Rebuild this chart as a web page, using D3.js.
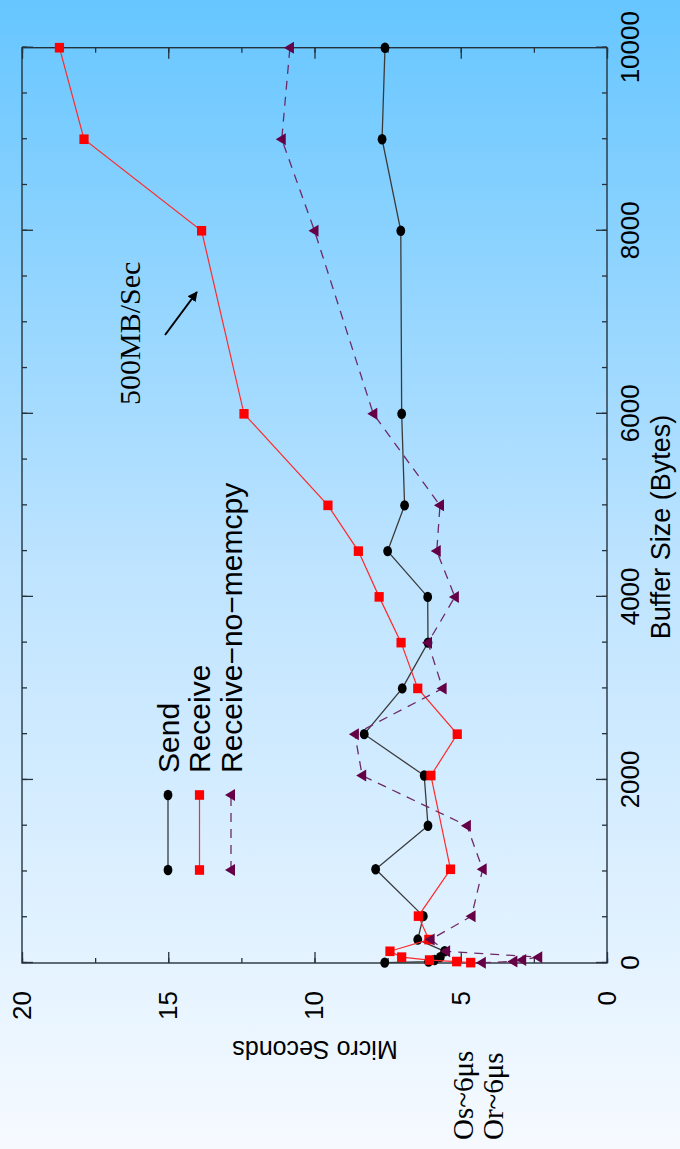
<!DOCTYPE html>
<html><head><meta charset="utf-8">
<script src="https://cdn.jsdelivr.net/npm/d3@7"></script>
<style>html,body{margin:0;padding:0;background:#fff}svg{display:block}</style>
</head><body>
<svg id="chart" width="680" height="1149"></svg>
<script>
// Latency vs. buffer size (bytes -> microseconds)
const sendSizes   = [4, 16, 32, 64, 128, 256, 512, 1024, 1500, 2048, 2500, 3000, 3500, 4000, 4500, 5000, 6000, 8000, 9000, 10000];
const sendMicros  = [7.6, 6.1, 5.9, 5.7, 5.55, 6.47, 6.28, 7.91, 6.12, 6.25, 8.30, 7.0, 6.12, 6.13, 7.50, 6.92, 7.02, 7.05, 7.69, 7.59];

const recvSizes   = [4, 16, 32, 64, 128, 256, 512, 1024, 2048, 2500, 3000, 3500, 4000, 4500, 5000, 6000, 8000, 9000, 10000];
const recvMicros  = [4.66, 5.14, 6.07, 7.02, 7.42, 6.09, 6.45, 5.35, 6.02, 5.12, 6.47, 7.04, 7.79, 8.50, 9.54, 12.41, 13.86, 17.88, 18.72];

const nomemSizes  = [4, 16, 32, 64, 128, 256, 512, 1024, 1500, 2048, 2500, 3000, 3500, 4000, 4500, 5000, 6000, 8000, 9000, 10000];
const nomemMicros = [4.28, 3.2, 2.9, 2.35, 5.5, 6.03, 4.63, 4.25, 4.79, 8.37, 8.62, 5.62, 6.12, 5.20, 5.82, 5.71, 7.99, 10.0, 11.12, 10.84];

const seriesNames = ["Send", "Receive", "Receive\u2212no\u2212memcpy"];
const sizeTicks   = [0, 2000, 4000, 6000, 8000, 10000];
const microTicks  = [0, 5, 10, 15, 20];

// annotation: bandwidth slope marker (data units)
const slopeArrow = {from: [6861, 15.11], to: [7331, 14.02]};
const slopeLabel = {text: "500MB/Sec", at: [6096, 15.97]};

const W = 680, H = 1149;
const svg = d3.select("#chart");

const defs = svg.append("defs");
const grad = defs.append("linearGradient").attr("id", "bg")
  .attr("x1", 0).attr("y1", 0).attr("x2", 0).attr("y2", 1);
grad.append("stop").attr("offset", "0").attr("stop-color", "#66c6ff");
grad.append("stop").attr("offset", "0.5").attr("stop-color", "#bfe4ff");
grad.append("stop").attr("offset", "1").attr("stop-color", "#f6faff");
defs.append("marker").attr("id", "ah").attr("viewBox", "0 0 10 10")
  .attr("refX", 9).attr("refY", 5).attr("markerWidth", 5).attr("markerHeight", 5)
  .attr("orient", "auto")
  .append("path").attr("d", "M0,0 L10,5 L0,10 Z").attr("fill", "#000");

svg.append("rect").attr("width", W).attr("height", H).attr("fill", "url(#bg)");

// The plot is laid out in landscape and turned a quarter turn counter-clockwise.
const PW = H, PH = W;
const m = {left: 186, right: 47.7, top: 22, bottom: 73};
const g = svg.append("g").attr("transform", `translate(0,${H}) rotate(-90)`);

const x = d3.scaleLinear().domain([0, 10000]).range([m.left, PW - m.right]);
const y = d3.scaleLinear().domain([0, 20]).range([PH - m.bottom, m.top]);

const frameColor = "#25323c";
const sans = "'Liberation Sans', Arial, Helvetica, sans-serif";
const serif = "'Liberation Serif', 'Times New Roman', serif";

// ticks on all four sides, pointing inward
function tickAxis(axisFn, scale, values, len, labels, pad, transform) {
  const a = axisFn(scale).tickValues(values).tickSizeInner(len).tickSizeOuter(0)
    .tickPadding(pad || 0);
  if (!labels) a.tickFormat("");
  else a.tickFormat(d3.format("d"));
  const sel = g.append("g").attr("transform", transform).call(a);
  sel.select(".domain").remove();
  sel.selectAll(".tick line").attr("stroke", frameColor).attr("stroke-width", 1.3);
  return sel;
}
const minorX = d3.range(0, 10001, 500);
const minorY = d3.range(0, 20.01, 2.5);
const y0 = y(0), y20 = y(20), x0 = x(0), x1 = x(10000);

tickAxis(d3.axisBottom, x, minorX, -5, false, 0, `translate(0,${y0})`);
tickAxis(d3.axisTop, x, minorX, -5, false, 0, `translate(0,${y20})`);
tickAxis(d3.axisLeft, y, minorY, -5, false, 0, `translate(${x0},0)`);
tickAxis(d3.axisRight, y, minorY, -5, false, 0, `translate(${x1},0)`);
tickAxis(d3.axisTop, x, sizeTicks, -11, false, 0, `translate(0,${y20})`);
tickAxis(d3.axisRight, y, microTicks, -11, false, 0, `translate(${x1},0)`);

const xAx = tickAxis(d3.axisBottom, x, sizeTicks, -11, true, 14, `translate(0,${y0})`);
xAx.selectAll("text").attr("font-family", sans).attr("font-size", 26).attr("fill", "#000");
const yAx = tickAxis(d3.axisLeft, y, microTicks, -11, true, 28, `translate(${x0},0)`);
yAx.selectAll("text").attr("font-family", sans).attr("font-size", 26).attr("fill", "#000")
  .attr("text-anchor", "end");

// frame
g.append("rect").attr("x", x0).attr("y", y20).attr("width", x1 - x0).attr("height", y0 - y20)
  .attr("fill", "none").attr("stroke", frameColor).attr("stroke-width", 1.4);

// axis titles
g.append("text").attr("x", 1149 - 527).attr("y", 670).attr("text-anchor", "middle")
  .attr("font-family", sans).attr("font-size", 27).text("Buffer Size (Bytes)");
g.append("text").attr("transform", `translate(${1149 - 1050},315) rotate(-90)`)
  .attr("text-anchor", "middle").attr("dominant-baseline", "central")
  .attr("font-family", sans).attr("font-size", 25).text("Micro Seconds");

// overhead notes
g.append("text").attr("x", 9).attr("y", y(5) + 12)
  .attr("font-family", serif).attr("font-size", 29).text("Os~6\u03bcs");
g.append("text").attr("x", 9).attr("y", y(5) + 42)
  .attr("font-family", serif).attr("font-size", 29).text("Or~6\u03bcs");

// marker shapes (in landscape coordinates)
const markers = {
  circle: (s, c) => s.append("ellipse").attr("rx", 5.2).attr("ry", 4.4).attr("fill", c),
  square: (s, c) => s.append("rect").attr("x", -4.8).attr("y", -4.6).attr("width", 9.6).attr("height", 9.2).attr("fill", c),
  tri: (s, c) => s.append("path").attr("d", "M0,-6 L6,4 L-6,4 Z").attr("fill", c)
};

const series = [
  {name: seriesNames[0], sizes: sendSizes, vals: sendMicros, color: "#3a3a3a", mark: "#000", shape: "circle", dash: null, w: 1.3},
  {name: seriesNames[1], sizes: recvSizes, vals: recvMicros, color: "#ff2a2a", mark: "#ff0000", shape: "square", dash: null, w: 1.2},
  {name: seriesNames[2], sizes: nomemSizes, vals: nomemMicros, color: "#6e2a66", mark: "#650046", shape: "tri", dash: "9,7", w: 1.3}
];

const line = d3.line().x(d => x(d[0])).y(d => y(d[1]));
series.forEach(s => {
  const pts = s.sizes.map((b, i) => [b, s.vals[i]]);
  g.append("path").datum(pts).attr("d", line).attr("fill", "none")
    .attr("stroke", s.color).attr("stroke-width", s.w).attr("stroke-dasharray", s.dash);
  pts.forEach(p => {
    const mg = g.append("g").attr("transform", `translate(${x(p[0])},${y(p[1])})`);
    markers[s.shape](mg, s.mark);
  });
});

// legend
const legU0 = 279, legU1 = 354, legText = 376;
series.forEach((s, i) => {
  const v = 168 + i * 31.5;
  g.append("line").attr("x1", legU0).attr("x2", legU1).attr("y1", v).attr("y2", v)
    .attr("stroke", s.color).attr("stroke-width", s.w).attr("stroke-dasharray", s.dash);
  [legU0, legU1].forEach(u => markers[s.shape](g.append("g").attr("transform", `translate(${u},${v})`), s.mark));
  g.append("text").attr("x", legText).attr("y", v).attr("dominant-baseline", "central")
    .attr("font-family", sans).attr("font-size", 30).text(s.name);
});

// slope annotation
g.append("line")
  .attr("x1", x(slopeArrow.from[0])).attr("y1", y(slopeArrow.from[1]))
  .attr("x2", x(slopeArrow.to[0])).attr("y2", y(slopeArrow.to[1]))
  .attr("stroke", "#000").attr("stroke-width", 2).attr("marker-end", "url(#ah)");
g.append("text").attr("x", x(slopeLabel.at[0])).attr("y", y(slopeLabel.at[1]))
  .attr("font-family", serif).attr("font-size", 30).text(slopeLabel.text);
</script>
</body></html>
